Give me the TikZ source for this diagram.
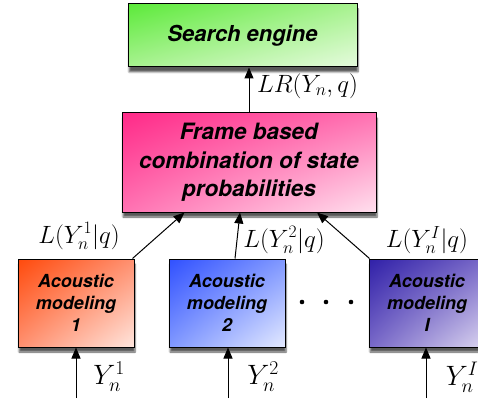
\RequirePackage{fix-cm}
\documentclass[tikz,border=0pt]{standalone}
\usepackage{fontspec}
\newfontfamily\hv{TeX Gyre Heros}
\usetikzlibrary{arrows.meta,calc,shadows.blur,shadings}
\definecolor{gA}{HTML}{5CEA3A}\definecolor{gB}{HTML}{A8F290}\definecolor{gC}{HTML}{E6FBDE}
\definecolor{pA}{HTML}{FF2A88}\definecolor{pB}{HTML}{FF72B2}\definecolor{pC}{HTML}{FFE0EE}
\definecolor{oA}{HTML}{FF4A0C}\definecolor{oB}{HTML}{FF9070}\definecolor{oC}{HTML}{FFE6DE}
\definecolor{bA}{HTML}{3050FF}\definecolor{bB}{HTML}{8098FF}\definecolor{bC}{HTML}{E4EAFF}
\definecolor{vA}{HTML}{3020A8}\definecolor{vB}{HTML}{7868C8}\definecolor{vC}{HTML}{DCD6F0}
\tikzset{
  box/.style={draw=black, line width=1pt, align=center, inner sep=2pt,
    font=\hv\bfseries\itshape,
    blur shadow={shadow xshift=1pt, shadow yshift=-5pt, shadow blur steps=6, shadow opacity=65}},
  grad/.style n args={3}{upper left=#1, upper right=#2, lower left=#2, lower right=#3},
  arr/.style={line width=1pt, -{Triangle[length=11pt,width=9pt]}},
  mlab/.style={inner sep=0pt, font=\fontsize{25}{28}\selectfont},
  ylab/.style={inner sep=0pt, font=\fontsize{28}{30}\selectfont}
}
\begin{document}
\begin{tikzpicture}[x=1pt,y=-1pt]
\useasboundingbox (0,0) rectangle (478,398);
\node[box, grad={gA}{gB}{gC}, minimum width=229pt, minimum height=63pt,
  font=\hv\bfseries\itshape\fontsize{22}{26}\selectfont] (se) at (242.5,35.5) {Search engine};
\node[box, grad={pA}{pB}{pC}, minimum width=254pt, minimum height=99pt,
  font=\hv\bfseries\itshape\fontsize{22.5}{28.5}\selectfont] (pk) at (249,162.5)
  {Frame based\\combination of state\\probabilities};
\node[box, grad={oA}{oB}{oC}, minimum width=116pt, minimum height=88pt,
  font=\hv\bfseries\itshape\fontsize{18}{22}\selectfont] (a1) at (76,303) {Acoustic\\modeling\\1};
\node[box, grad={bA}{bB}{bC}, minimum width=116pt, minimum height=88pt,
  font=\hv\bfseries\itshape\fontsize{18}{22}\selectfont] (a2) at (227,303) {Acoustic\\modeling\\2};
\node[box, grad={vA}{vB}{vC}, minimum width=116pt, minimum height=88pt,
  font=\hv\bfseries\itshape\fontsize{18}{22}\selectfont] (aI) at (427,303) {Acoustic\\modeling\\I};
% arrows
\draw[arr] (pk.north) -- (pk.north |- se.south);
\coordinate (t1) at ($(pk.south west)+(63,0)$);
\coordinate (t2) at ($(pk.south)+(-9,0)$);
\coordinate (tI) at ($(pk.south)+(68,0)$);
\draw[arr] ($(a1.north east)+(-2,0)$) -- (t1);
\draw[arr] ($(a2.north)+(8,0)$) -- (t2);
\draw[arr] ($(aI.north west)+(1,0)$) -- (tI);
\coordinate (i1) at (76,398);
\coordinate (i2) at (228,398);
\coordinate (iI) at (426,398);
\draw[arr] (i1) -- (i1 |- a1.south);
\draw[arr] (i2) -- (i2 |- a2.south);
\draw[arr] (iI) -- (iI |- aI.south);
% labels
\node[mlab, anchor=west] (lr) at (257,86) {$LR(Y_n,q)$};
\node[mlab] (l1) at (79,236) {$L(Y_n^1|q)$};
\node[mlab] (l2) at (284,240) {$L(Y_n^2|q)$};
\node[mlab] (lI) at (427,240) {$L(Y_n^I|q)$};
\node[ylab] (y1) at (109,377) {$Y_n^1$};
\node[ylab] (y2) at (263,377) {$Y_n^2$};
\node[ylab] (yI) at (462,377) {$Y_n^I$};
% dots
\foreach \x in {302,326,351} \fill (\x,302) circle (2.3pt);
\end{tikzpicture}
\end{document}
